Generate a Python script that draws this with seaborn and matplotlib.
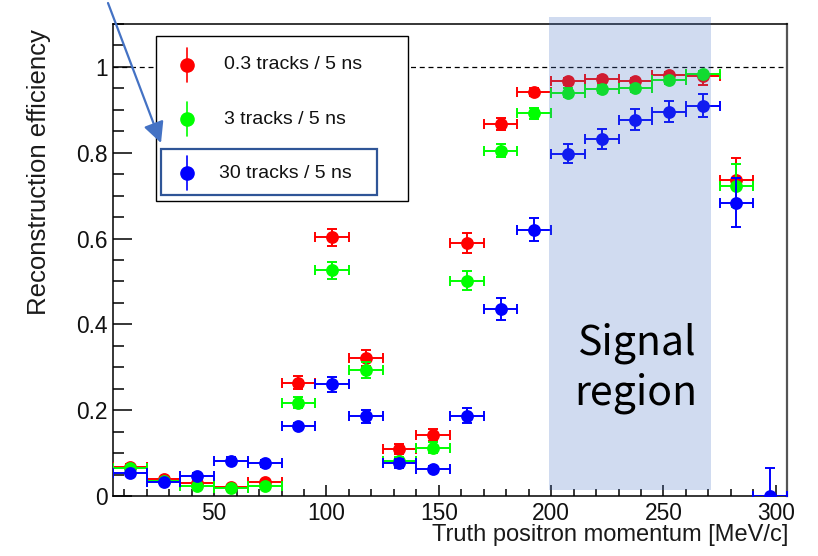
import numpy as np
import pandas as pd
import matplotlib
matplotlib.use("Agg")
import matplotlib.pyplot as plt
import matplotlib.transforms as mtransforms
from matplotlib.patches import Rectangle, FancyArrowPatch
from matplotlib.lines import Line2D
from matplotlib.ticker import MultipleLocator, FixedLocator, FixedFormatter
import seaborn as sns

# ---- data: reconstruction efficiency per 15 MeV/c momentum bin ----
momentum = [12.5, 27.5, 42.5, 57.5, 72.5, 87.5, 102.5, 117.5, 132.5, 147.5,
            162.5, 177.5, 192.5, 207.5, 222.5, 237.5, 252.5, 267.5, 282.5, 297.5]
bin_halfwidth = 7.5

eff_03 = [0.068, 0.039, 0.030, 0.022, 0.032, 0.264, 0.603, 0.322, 0.109, 0.142,
          0.590, 0.867, 0.942, 0.966, 0.971, 0.966, 0.981, 0.979, 0.736, np.nan]
err_03_lo = [0.006, 0.005, 0.005, 0.004, 0.005, 0.015, 0.020, 0.018, 0.012, 0.014,
             0.023, 0.015, 0.010, 0.008, 0.008, 0.008, 0.007, 0.020, 0.050, 0.0]
err_03_hi = [0.006, 0.005, 0.005, 0.004, 0.005, 0.015, 0.020, 0.018, 0.012, 0.014,
             0.023, 0.015, 0.010, 0.008, 0.008, 0.008, 0.007, 0.010, 0.051, 0.0]

eff_3 = [0.065, 0.035, 0.024, 0.018, 0.023, 0.217, 0.526, 0.293, 0.082, 0.113,
         0.502, 0.805, 0.892, 0.940, 0.948, 0.950, 0.969, 0.983, 0.723, np.nan]
err_3_lo = [0.006, 0.005, 0.005, 0.004, 0.005, 0.013, 0.020, 0.019, 0.010, 0.013,
            0.023, 0.016, 0.013, 0.010, 0.009, 0.009, 0.008, 0.008, 0.050, 0.0]
err_3_hi = [0.006, 0.005, 0.005, 0.004, 0.005, 0.013, 0.020, 0.019, 0.010, 0.013,
            0.023, 0.016, 0.013, 0.010, 0.009, 0.009, 0.008, 0.008, 0.051, 0.0]

eff_30 = [0.053, 0.032, 0.047, 0.082, 0.076, 0.163, 0.260, 0.186, 0.076, 0.063,
          0.187, 0.436, 0.621, 0.798, 0.832, 0.877, 0.896, 0.910, 0.684, 0.000]
err_30_lo = [0.005, 0.005, 0.006, 0.008, 0.008, 0.008, 0.018, 0.015, 0.010, 0.008,
             0.017, 0.025, 0.027, 0.022, 0.023, 0.024, 0.025, 0.026, 0.058, 0.000]
err_30_hi = [0.005, 0.005, 0.006, 0.008, 0.008, 0.008, 0.018, 0.015, 0.010, 0.008,
             0.017, 0.025, 0.027, 0.022, 0.023, 0.024, 0.025, 0.026, 0.058, 0.065]

labels = ["0.3 tracks / 5 ns", "3 tracks / 5 ns", "30 tracks / 5 ns"]
colors = ["#ff0000", "#00ff00", "#0000ff"]

x_ticks = [50, 100, 150, 200, 250, 300]
y_ticks = [0, 0.2, 0.4, 0.6, 0.8, 1.0]
y_ticklabels = ["0", "0.2", "0.4", "0.6", "0.8", "1"]

signal_lo, signal_hi = 199, 271

series = [
    (labels[0], eff_03, err_03_lo, err_03_hi),
    (labels[1], eff_3, err_3_lo, err_3_hi),
    (labels[2], eff_30, err_30_lo, err_30_hi),
]
frames = []
for name, eff, lo, hi in series:
    frames.append(pd.DataFrame({"momentum": momentum, "efficiency": eff,
                                "err_lo": lo, "err_hi": hi, "rate": name}))
df = pd.concat(frames, ignore_index=True).dropna(subset=["efficiency"])

# ---- figure ----
sns.set_theme(style="white")
plt.rcParams["font.family"] = ["Liberation Sans", "DejaVu Sans"]

W, H = 818, 556
fig = plt.figure(figsize=(W / 100, H / 100), dpi=100)
ax = fig.add_axes([113 / W, 60 / H, 674 / W, 472 / H])


def fx(px):
    return px / W


def fy(py):
    return 1 - py / H


for i, (name, color) in enumerate(zip(labels, colors)):
    d = df[df["rate"] == name]
    ax.errorbar(d["momentum"], d["efficiency"],
                xerr=bin_halfwidth, yerr=[d["err_lo"], d["err_hi"]],
                fmt="none", ecolor=color, elinewidth=1.4, capsize=3.5,
                capthick=1.4, zorder=3 + 2 * i)
    sns.scatterplot(data=d, x="momentum", y="efficiency", color=color,
                    s=85, linewidth=0, ax=ax, zorder=4 + 2 * i, legend=False)

ax.axhline(1.0, color="black", lw=0.9, ls=(0, (4, 3)), zorder=2)

ax.set_xlim(5, 305)
ax.set_ylim(0, 1.1)

ax.xaxis.set_major_locator(FixedLocator(x_ticks))
ax.xaxis.set_minor_locator(MultipleLocator(10))
ax.yaxis.set_major_locator(FixedLocator(y_ticks))
ax.yaxis.set_major_formatter(FixedFormatter(y_ticklabels))
ax.yaxis.set_minor_locator(MultipleLocator(0.05))

ax.tick_params(axis="x", which="major", direction="in", length=8, width=1.1,
               color="black", labelsize=16.4, pad=4, labelcolor="#111111")
ax.tick_params(axis="x", which="minor", direction="in", length=5, width=1.1,
               color="black")
ax.tick_params(axis="y", which="major", direction="in", length=14, width=1.1,
               color="black", labelsize=16.4, pad=4, labelcolor="#111111")
ax.tick_params(axis="y", which="minor", direction="in", length=8, width=1.1,
               color="black")
ax.tick_params(bottom=True, left=True, top=False, right=False, which="both")

for side in ["left", "bottom", "top", "right"]:
    ax.spines[side].set_color("black")
    ax.spines[side].set_linewidth(1.1)
ax.spines["right"].set_color("#555555")
ax.spines["right"].set_linewidth(1.6)

ax.set_xlabel("")
ax.set_ylabel("")
fig.text(fx(788), fy(535), "Truth positron momentum [MeV/c]", ha="right",
         va="center", fontsize=17, color="#1a1a1a")
fig.text(fx(39), fy(29), "Reconstruction efficiency", rotation=90,
         ha="center", va="top", fontsize=18.5, color="#1a1a1a")

# ---- legend box ----
fig.patches.append(Rectangle((fx(156), fy(201)), fx(408) - fx(156),
                             fy(36) - fy(201), transform=fig.transFigure,
                             facecolor="white", edgecolor="black", lw=1.0,
                             zorder=20))
entry_y = [65, 119, 173]
text_x = [224, 224, 219]
for name, color, ey, tx in zip(labels, colors, entry_y, text_x):
    fig.add_artist(Line2D([fx(187), fx(187)], [fy(ey - 17), fy(ey + 17)],
                          transform=fig.transFigure, color=color, lw=1.2,
                          zorder=21))
    fig.add_artist(Line2D([fx(187)], [fy(ey)], transform=fig.transFigure,
                          marker="o", markersize=9.5, color=color, lw=0,
                          zorder=22))
    fig.text(fx(tx), fy(ey), name, ha="left", va="center", fontsize=14,
             color="#111111", zorder=22)

fig.patches.append(Rectangle((fx(161), fy(195)), fx(377) - fx(161),
                             fy(149) - fy(195), transform=fig.transFigure,
                             facecolor="none", edgecolor="#2f5597", lw=1.6,
                             zorder=23))

# ---- signal region overlay ----
blend = mtransforms.blended_transform_factory(ax.transData, fig.transFigure)
ax.add_patch(Rectangle((signal_lo, fy(490)), signal_hi - signal_lo,
                       fy(17) - fy(490), transform=blend, facecolor="#4472c4",
                       alpha=0.25, lw=0, clip_on=False, zorder=30))
fig.text(fx(636), fy(355), "Signal", ha="center", va="baseline", fontsize=29.5,
         family=["Noto Sans CJK JP", "DejaVu Sans"], color="black", zorder=31)
fig.text(fx(636), fy(405), "region", ha="center", va="baseline", fontsize=29.5,
         family=["Noto Sans CJK JP", "DejaVu Sans"], color="black", zorder=31)

# ---- pointer arrow ----
fig.add_artist(FancyArrowPatch((fx(108), fy(3)), (fx(161), fy(143)),
                               transform=fig.transFigure,
                               arrowstyle="-|>,head_length=0.9,head_width=0.45",
                               mutation_scale=14, color="#4472c4", lw=1.6,
                               shrinkA=0, shrinkB=0, zorder=40))

fig.savefig("out.png", dpi=100)
